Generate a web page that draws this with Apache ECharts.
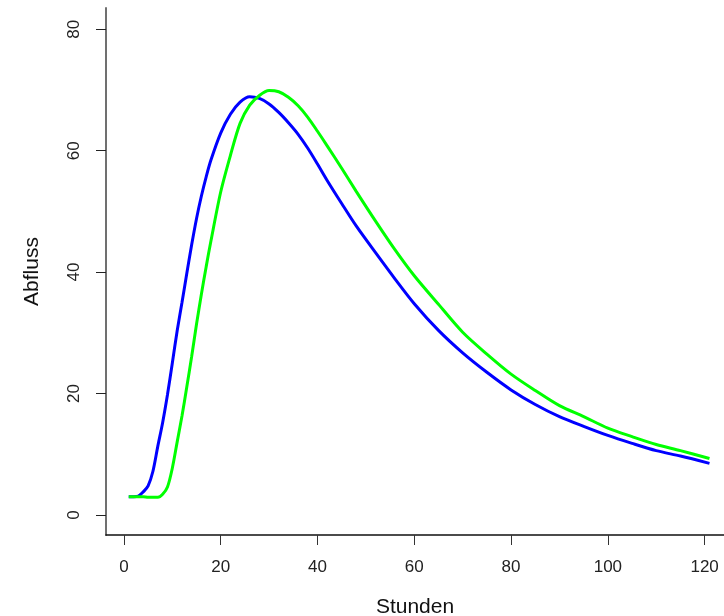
<!DOCTYPE html>
<html>
<head>
<meta charset="utf-8">
<script src="https://cdn.jsdelivr.net/npm/echarts@6/dist/echarts.min.js"></script>
<style>html,body{margin:0;padding:0;background:#fff}#c{width:724px;height:616px}</style>
</head>
<body>
<div id="c"></div>
<script>
const hours = [1,2,3,4,5,6,7,8,9,10,11,12,13,14,15,16,17,18,20,22,24,26,28,30,32,34,36,38,40,42,45,48,52,56,60,65,70,75,80,85,90,95,100,105,110,115,121];
const blueFlow = [3.0,3.0,3.1,3.8,4.8,7.2,11.3,15.2,19.8,25.0,30.3,35.0,39.8,44.5,48.8,52.5,55.7,58.5,62.9,66.0,68.0,68.9,68.6,67.7,66.3,64.6,62.7,60.4,57.8,55.1,51.3,47.6,43.2,38.9,34.8,30.4,26.7,23.5,20.6,18.2,16.2,14.6,13.1,11.8,10.6,9.7,8.5];
const greenFlow = [3.0,3.0,3.0,3.0,2.9,2.9,2.9,3.4,4.6,7.7,12.0,16.3,21.1,26.1,31.4,36.3,40.9,45.2,53.2,59.2,64.5,67.5,69.1,69.9,69.7,68.8,67.4,65.5,63.2,60.8,57.1,53.3,48.4,43.7,39.4,34.7,30.1,26.5,23.2,20.5,18.0,16.2,14.3,12.9,11.6,10.6,9.3];
const xTicks = [0,20,40,60,80,100,120];
const yTicks = [0,20,40,60,80];

const chart = echarts.init(document.getElementById('c'), null, {renderer:'canvas'});
const font = 'Liberation Sans, Arial, sans-serif';
chart.setOption({
  animation: false,
  grid: {left:106, right:0, top:8, bottom:81, containLabel:false, outerBoundsMode:'none'},
  xAxis: {
    type:'value', min:-3.7, max:124.0,
    name:'Stunden', nameLocation:'middle', nameGap:62,
    nameTextStyle:{fontFamily:font, fontSize:21, color:'#111'},
    axisLine:{show:true, onZero:false, lineStyle:{color:'#111', width:1.5}},
    axisTick:{show:true, customValues:xTicks, length:10, lineStyle:{color:'#333', width:1}},
    axisLabel:{customValues:xTicks, fontFamily:font, fontSize:17, color:'#222', margin:24},
    splitLine:{show:false}
  },
  yAxis: {
    type:'value', min:-3.3, max:83.5,
    name:'Abfluss', nameLocation:'middle', nameGap:63,
    nameTextStyle:{fontFamily:font, fontSize:21, color:'#111'},
    axisLine:{show:true, onZero:false, lineStyle:{color:'#707070', width:2}},
    axisTick:{show:true, customValues:yTicks, length:10, lineStyle:{color:'#222', width:1}},
    axisLabel:{customValues:yTicks, rotate:90, align:'center', verticalAlign:'bottom', fontFamily:font, fontSize:17, color:'#222', margin:23},
    splitLine:{show:false}
  },
  series: [
    {type:'line', data:hours.map((h,i)=>[h,blueFlow[i]]), smooth:0.3, showSymbol:false, lineStyle:{color:'#0000ff', width:3}, z:2},
    {type:'line', data:hours.map((h,i)=>[h,greenFlow[i]]), smooth:0.3, showSymbol:false, lineStyle:{color:'#00ff00', width:3}, z:3}
  ]
});
</script>
</body>
</html>
